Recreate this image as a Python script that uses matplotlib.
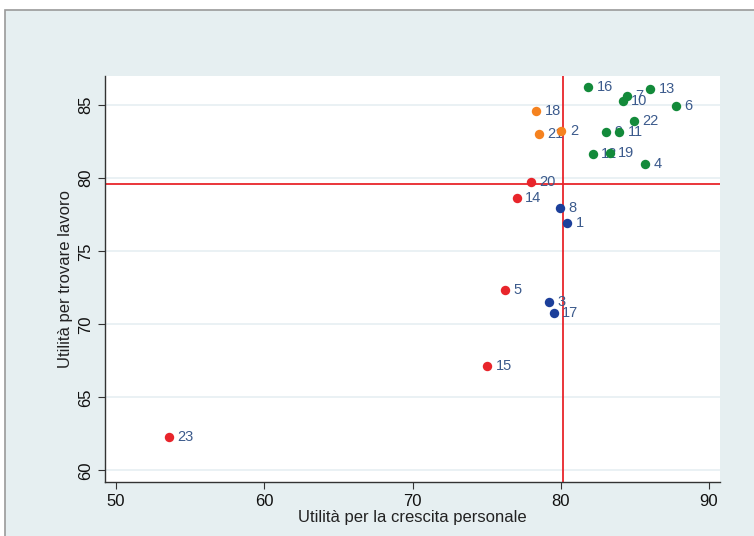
import matplotlib
matplotlib.use("Agg")
import matplotlib.pyplot as plt
from matplotlib.patches import Rectangle

plt.rcParams['font.family'] = ['Liberation Sans', 'DejaVu Sans']

# data: (id, crescita personale, trovare lavoro)
green_ids = ['16', '13', '7', '10', '6', '22', '9', '11', '12', '19', '4']
green_x = [81.85, 86.05, 84.45, 84.2, 87.75, 84.95, 83.05, 83.95, 82.15, 83.3, 85.7]
green_y = [86.25, 86.1, 85.65, 85.3, 84.95, 83.95, 83.15, 83.15, 81.65, 81.75, 80.95]

orange_ids = ['18', '21', '2']
orange_x = [78.35, 78.55, 80.05]
orange_y = [84.6, 83.05, 83.2]

red_ids = ['20', '14', '5', '15', '23']
red_x = [78.0, 77.05, 76.25, 75.05, 53.55]
red_y = [79.75, 78.65, 72.35, 67.15, 62.25]

blue_ids = ['8', '1', '3', '17']
blue_x = [79.95, 80.45, 79.2, 79.55]
blue_y = [77.95, 76.95, 71.55, 70.75]

mean_x = 80.15
mean_y = 79.6

groups = [
    (green_ids, green_x, green_y, '#138a3a'),
    (orange_ids, orange_x, orange_y, '#f5821f'),
    (red_ids, red_x, red_y, '#e8252b'),
    (blue_ids, blue_x, blue_y, '#1c3f9a'),
]

fig = plt.figure(figsize=(7.54, 5.36), dpi=100)
fig.patch.set_facecolor('white')
bg = Rectangle((5 / 754, -0.1), 1.2, 1.1 - 10 / 536,
               transform=fig.transFigure, facecolor='#e6eff1',
               edgecolor='#9a9a9a', linewidth=1.2, zorder=-5)
fig.add_artist(bg)

ax = fig.add_axes([105 / 754, 1 - 482 / 536, 615 / 754, 406 / 536])
ax.set_facecolor('white')

for ids, xs, ys, col in groups:
    ax.scatter(xs, ys, s=46, color=col, zorder=4, linewidths=0)
    for i, x, y in zip(ids, xs, ys):
        ax.annotate(i, (x, y), xytext=(6, 0), textcoords='offset points',
                    va='center', ha='left', fontsize=10.5, color='#3b5a8c', zorder=3)

ax.axvline(mean_x, color='#e8252b', lw=1.3, zorder=2)
ax.axhline(mean_y, color='#e8252b', lw=1.3, zorder=2)

ax.set_xlim(49.25, 90.75)
ax.set_ylim(59.2, 87.0)
ax.set_xticks([50, 60, 70, 80, 90])
ax.set_yticks([60, 65, 70, 75, 80, 85])
ax.yaxis.grid(True, color='#e8f0f3', lw=1.3)
ax.set_axisbelow(True)

for s in ['top', 'right']:
    ax.spines[s].set_visible(False)
for s in ['left', 'bottom']:
    ax.spines[s].set_color('#333333')
    ax.spines[s].set_linewidth(1.0)

ax.tick_params(axis='both', direction='out', length=5, color='#333333',
               labelsize=12, labelcolor='#111111')
for lab in ax.get_yticklabels():
    lab.set_rotation(90)
    lab.set_va('center')

ax.set_xlabel('Utilità per la crescita personale', fontsize=12, color='#222222', labelpad=1)
ax.set_ylabel('Utilità per trovare lavoro', fontsize=12, color='#222222', labelpad=4)

fig.savefig('out.png', dpi=100)
